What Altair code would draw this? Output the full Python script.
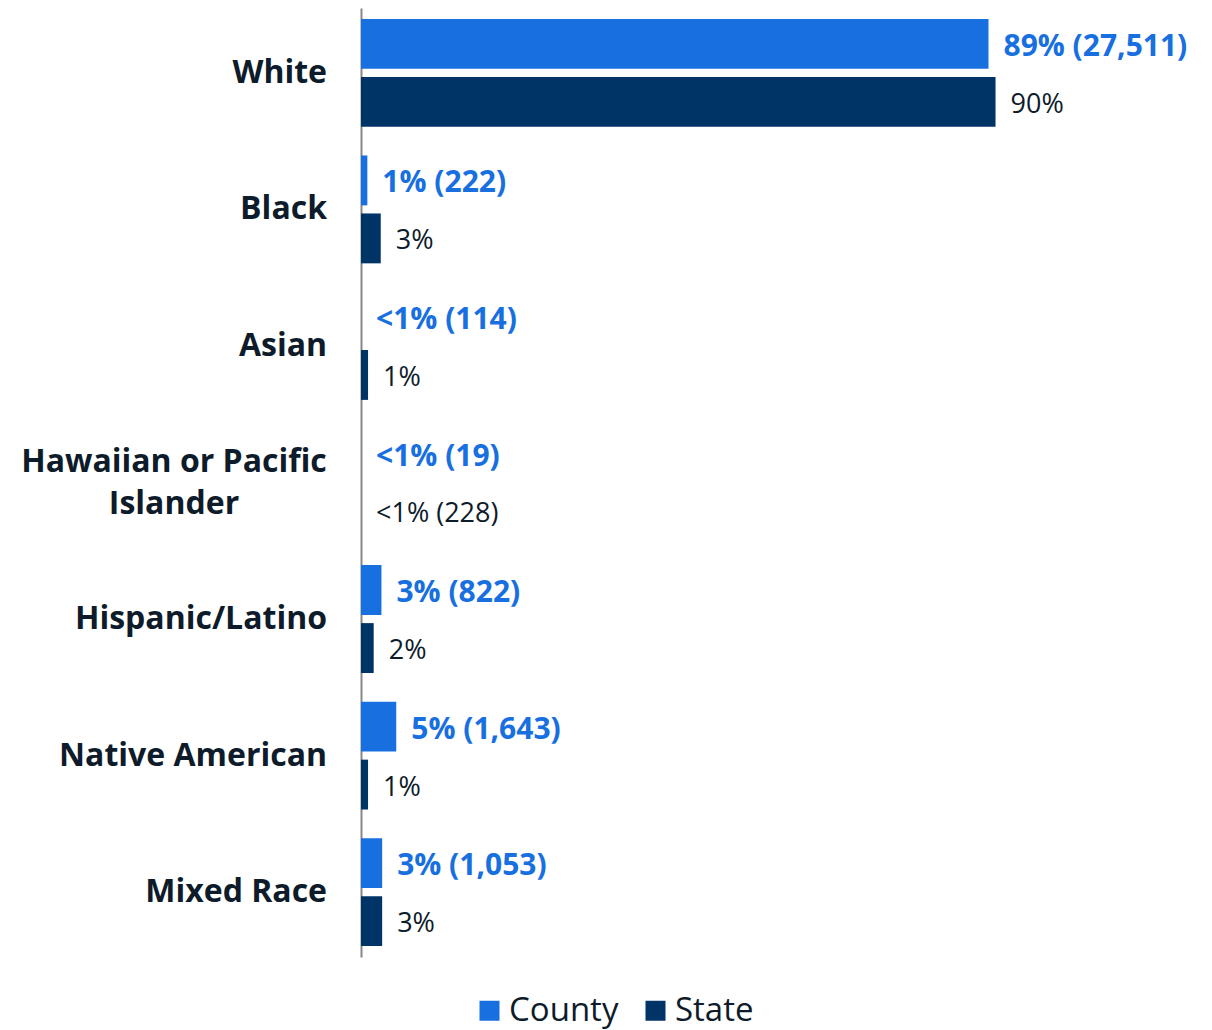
import altair as alt
import pandas as pd

categories = ["White", "Black", "Asian", "Hawaiian or Pacific Islander",
              "Hispanic/Latino", "Native American", "Mixed Race"]
display_names = ["White", "Black", "Asian", "Hawaiian or Pacific\nIslander",
                 "Hispanic/Latino", "Native American", "Mixed Race"]
county_values = [89, 0.9, 0, 0, 2.9, 5.0, 3.0]
state_values = [90, 2.8, 1.0, 0, 1.8, 1.0, 3.0]
county_labels = ["89% (27,511)", "1% (222)", "<1% (114)", "<1% (19)",
                 "3% (822)", "5% (1,643)", "3% (1,053)"]
state_labels = ["90%", "3%", "1%", "<1% (228)", "2%", "1%", "3%"]
series = ["County", "State"]

BLUE = "#186fe0"
NAVY = "#003366"
DARK = "#0d1b2a"
FONT = "Open Sans"

rows = []
for c, v, l in zip(categories, county_values, county_labels):
    rows.append({"category": c, "series": "County", "value": v, "label": l})
for c, v, l in zip(categories, state_values, state_labels):
    rows.append({"category": c, "series": "State", "value": v, "label": l})
df = pd.DataFrame(rows)

cat_df = pd.DataFrame({"category": categories, "name": display_names})

y_enc = alt.Y("category:N", sort=categories,
              scale=alt.Scale(paddingInner=0.21, paddingOuter=0.08),
              axis=alt.Axis(labels=False, ticks=False, title=None, domain=True,
                            domainColor="#888888", domainWidth=2, grid=False))
yoff = alt.YOffset("series:N", sort=series, scale=alt.Scale(paddingInner=0.14))
x_enc = alt.X("value:Q", scale=alt.Scale(domain=[0, 119], nice=False), axis=None)

base = alt.Chart(df)

bars = base.mark_bar().encode(
    y=y_enc,
    yOffset=yoff,
    x=x_enc,
    color=alt.Color("series:N", sort=series,
                    scale=alt.Scale(domain=series, range=[BLUE, NAVY]),
                    legend=alt.Legend(title=None, orient="none", direction="horizontal",
                                      legendX=112, legendY=986, symbolType="square",
                                      symbolSize=400, symbolStrokeWidth=0,
                                      labelFontSize=33, labelFont=FONT,
                                      labelColor=DARK, labelOffset=3,
                                      columnPadding=20)),
)

county_text = base.transform_filter(alt.datum.series == "County").mark_text(
    align="left", baseline="middle", dx=15, dy=3, fontSize=30, fontWeight="bold",
    font=FONT, color=BLUE
).encode(y=alt.Y("category:N", sort=categories), yOffset=yoff, x=x_enc, text="label:N")

state_text = base.transform_filter(alt.datum.series == "State").mark_text(
    align="left", baseline="middle", dx=15, dy=3, fontSize=27, fontWeight="normal",
    font=FONT, color=DARK
).encode(y=alt.Y("category:N", sort=categories), yOffset=yoff, x=x_enc, text="label:N")

cat_base = alt.Chart(cat_df)
cat_right = cat_base.transform_filter(
    alt.datum.category != "Hawaiian or Pacific Islander"
).mark_text(
    align="right", baseline="middle", fontSize=32, fontWeight="bold",
    font=FONT, color=DARK
).encode(y=alt.Y("category:N", sort=categories), x=alt.value(-34), text="name:N")

cat_center = cat_base.transform_filter(
    alt.datum.category == "Hawaiian or Pacific Islander"
).mark_text(
    align="center", baseline="middle", dy=-21, fontSize=32, fontWeight="bold",
    font=FONT, color=DARK, lineBreak="\n", lineHeight=42
).encode(y=alt.Y("category:N", sort=categories), x=alt.value(-187), text="name:N")

chart = alt.layer(bars, county_text, state_text, cat_right, cat_center).properties(
    width=839, height=949,
    autosize=alt.AutoSizeParams(type="none"),
    padding={"left": 353, "top": 0, "right": 0, "bottom": 73},
).configure_view(stroke=None)

chart.save("out.html", embed_options={"renderer": "svg", "actions": False})
